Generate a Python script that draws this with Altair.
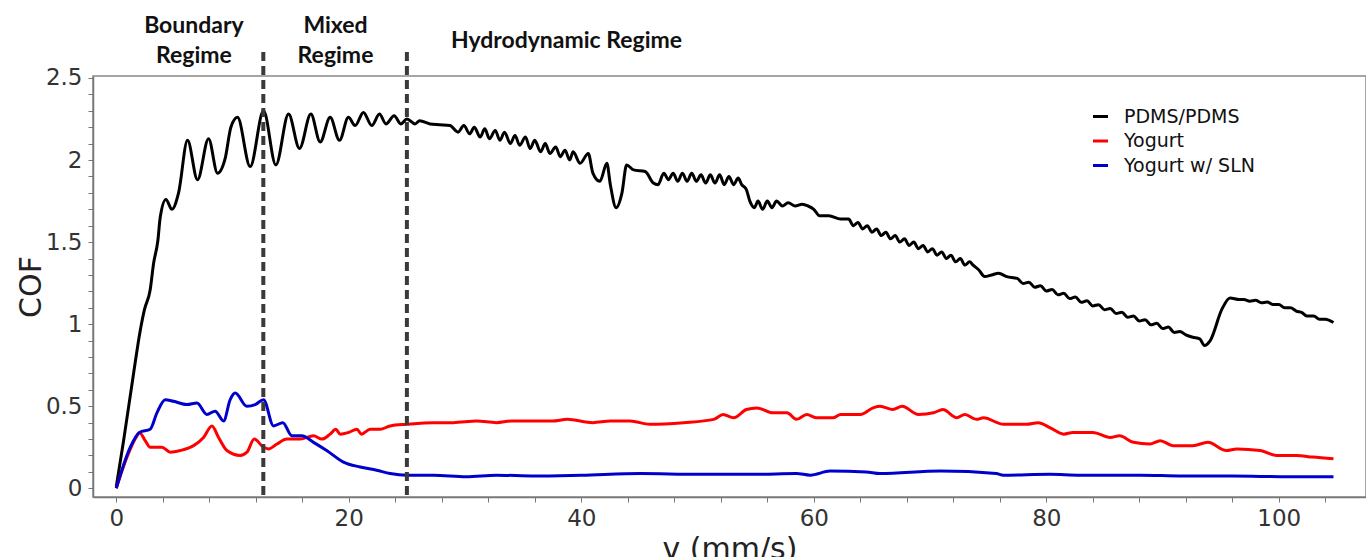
import altair as alt
import pandas as pd

series_names = ["PDMS/PDMS", "Yogurt", "Yogurt w/ SLN"]
series_colors = ["#000000", "#ff0000", "#0000cd"]

pdms_v = [0, 0.63, 1.49, 2.06, 2.43, 2.92, 3.21, 3.58, 3.78, 4.27,
          4.79, 5.36, 6.13, 6.99, 7.94, 8.71, 9.37, 9.86, 10.43, 11.52,
          12.67, 13.73, 14.82, 15.76, 16.74, 17.54, 18.40, 19.2, 19.97, 20.55,
          21.26, 21.98, 22.64, 23.2, 23.9, 24.48, 25.0, 25.7, 26.1, 27.0,
          27.8, 28.7, 29.4, 29.9, 30.4, 30.8, 31.3, 31.7, 32.1, 32.6,
          33.0, 33.4, 33.9, 34.3, 34.7, 35.2, 35.6, 36.0, 36.5, 36.9,
          37.3, 37.8, 38.2, 38.6, 39.0, 39.3, 39.9, 40.6, 41.0, 41.6,
          42.2, 42.5, 43.0, 43.5, 43.9, 44.5, 45.5, 46.2, 46.6, 47.1,
          47.5, 47.9, 48.3, 48.7, 49.1, 49.5, 49.9, 50.3, 50.7, 51.1,
          51.5, 51.9, 52.3, 52.7, 53.1, 53.5, 53.8, 54.2, 54.5, 54.9,
          55.2, 55.6, 56.0, 56.4, 56.8, 57.3, 57.8, 58.4, 59.0, 59.5,
          60.0, 60.5, 61.3, 62.3, 63.0, 63.4, 63.8, 64.2, 64.6, 65.0,
          65.4, 65.8, 66.2, 66.6, 67.0, 67.4, 67.8, 68.2, 68.6, 69.0,
          69.4, 69.8, 70.2, 70.6, 71.0, 71.4, 71.8, 72.2, 72.6, 73.0,
          73.4, 73.7, 74.2, 74.7, 75.3, 75.9, 76.6, 77.5, 78.0, 78.5,
          79.0, 79.5, 80.0, 80.5, 81.0, 81.5, 82.0, 82.5, 83.0, 83.5,
          84.0, 84.5, 85.0, 85.5, 86.0, 86.5, 87.0, 87.5, 88.0, 88.5,
          89.0, 89.5, 90.0, 90.5, 91.0, 91.5, 92.0, 92.6, 93.2, 93.6,
          94.1, 95.1, 95.8, 96.6, 97.0, 97.5, 98.0, 98.5, 99.0, 99.5,
          100.0, 100.5, 101.0, 101.5, 102.0, 102.4, 103.0, 103.5, 104.0, 104.7]
pdms_cof = [0.01, 0.29, 0.70, 0.96, 1.09, 1.21, 1.37, 1.51, 1.65, 1.76,
            1.70, 1.80, 2.12, 1.88, 2.13, 1.92, 2.01, 2.20, 2.26, 1.96,
            2.30, 1.97, 2.28, 2.07, 2.28, 2.11, 2.26, 2.12, 2.26, 2.21,
            2.29, 2.21, 2.28, 2.22, 2.27, 2.22, 2.25, 2.22, 2.24, 2.22,
            2.215, 2.21, 2.17, 2.21, 2.16, 2.20, 2.14, 2.19, 2.13, 2.18,
            2.12, 2.17, 2.10, 2.15, 2.09, 2.14, 2.07, 2.12, 2.05, 2.10,
            2.04, 2.08, 2.02, 2.06, 2.00, 2.05, 1.98, 2.04, 1.92, 1.87,
            1.98, 1.85, 1.71, 1.80, 1.97, 1.94, 1.93, 1.86, 1.85, 1.92,
            1.88, 1.92, 1.87, 1.92, 1.87, 1.92, 1.87, 1.91, 1.86, 1.91,
            1.86, 1.91, 1.85, 1.90, 1.85, 1.89, 1.85, 1.82, 1.75, 1.71,
            1.75, 1.70, 1.75, 1.71, 1.75, 1.72, 1.74, 1.72, 1.73, 1.72,
            1.70, 1.66, 1.66, 1.64, 1.64, 1.60, 1.62, 1.58, 1.60, 1.56,
            1.58, 1.54, 1.56, 1.52, 1.54, 1.50, 1.52, 1.48, 1.50, 1.46,
            1.48, 1.44, 1.46, 1.42, 1.44, 1.40, 1.42, 1.38, 1.40, 1.36,
            1.38, 1.36, 1.33, 1.29, 1.30, 1.31, 1.29, 1.279, 1.248, 1.256,
            1.225, 1.234, 1.202, 1.211, 1.179, 1.188, 1.156, 1.165, 1.133, 1.142,
            1.111, 1.119, 1.088, 1.096, 1.065, 1.073, 1.042, 1.050, 1.019, 1.027,
            0.996, 1.005, 0.973, 0.982, 0.950, 0.955, 0.935, 0.92, 0.91, 0.87,
            0.90, 1.09, 1.16, 1.15, 1.15, 1.14, 1.145, 1.13, 1.135, 1.12,
            1.12, 1.10, 1.10, 1.08, 1.07, 1.05, 1.05, 1.03, 1.03, 1.01]

yog_v = [0, 0.92, 1.78, 2.0, 2.49, 2.92, 3.93, 4.64, 5.50, 6.65,
         7.51, 8.23, 8.80, 9.52, 10.66, 11.24, 11.87, 12.67, 13.1, 13.82,
         14.68, 15.82, 16.97, 17.69, 18.4, 18.89, 19.26, 19.97, 20.7, 21.1,
         21.84, 22.7, 23.56, 25.0, 27.3, 29.0, 31.0, 32.7, 34.0, 35.9,
         37.5, 38.8, 41.0, 42.5, 44.2, 45.9, 48.8, 51.4, 52.2, 53.1,
         54.2, 55.1, 56.5, 57.7, 58.5, 59.4, 60.2, 61.7, 62.3, 64.0,
         65.1, 65.7, 66.8, 67.6, 69.0, 70.3, 71.1, 72.3, 73.0, 74.0,
         74.6, 76.3, 78.3, 79.3, 80.3, 81.5, 82.3, 84.0, 85.5, 86.3,
         87.5, 88.9, 89.8, 90.9, 92.6, 93.9, 95.5, 96.4, 98.4, 99.8,
         101.5, 102.9, 104.7]
yog_cof = [0, 0.19, 0.32, 0.34, 0.29, 0.25, 0.25, 0.22, 0.23, 0.26,
           0.31, 0.38, 0.31, 0.23, 0.20, 0.22, 0.30, 0.25, 0.24, 0.27,
           0.30, 0.30, 0.32, 0.30, 0.33, 0.36, 0.33, 0.34, 0.36, 0.33,
           0.36, 0.36, 0.38, 0.39, 0.40, 0.40, 0.41, 0.40, 0.41, 0.41,
           0.41, 0.42, 0.40, 0.41, 0.41, 0.39, 0.40, 0.42, 0.45, 0.43,
           0.48, 0.49, 0.46, 0.46, 0.42, 0.45, 0.43, 0.43, 0.45, 0.45,
           0.49, 0.50, 0.48, 0.50, 0.45, 0.46, 0.48, 0.43, 0.45, 0.42,
           0.43, 0.39, 0.39, 0.40, 0.37, 0.33, 0.34, 0.34, 0.31, 0.32,
           0.28, 0.27, 0.29, 0.26, 0.26, 0.28, 0.23, 0.24, 0.23, 0.20,
           0.20, 0.19, 0.18]

sln_v = [0, 1.2, 2.0, 2.92, 3.5, 4.21, 4.93, 6.08, 6.94, 7.8,
         8.51, 9.23, 9.8, 10.23, 11.24, 11.95, 12.67, 13.53, 14.33, 15.1,
         15.96, 16.97, 18.1, 19.54, 20.98, 22.4, 23.56, 25.0, 27.3, 30.1,
         32.7, 36.0, 40.0, 45.1, 50.0, 55.0, 58.5, 59.7, 61.4, 64.5,
         65.7, 70.9, 75.7, 76.3, 80.3, 82.9, 88.1, 91.7, 96.0, 100.9,
         104.7]
sln_cof = [0, 0.25, 0.34, 0.36, 0.46, 0.54, 0.53, 0.51, 0.52, 0.45,
           0.47, 0.41, 0.54, 0.58, 0.50, 0.51, 0.54, 0.38, 0.40, 0.32,
           0.32, 0.28, 0.23, 0.16, 0.13, 0.11, 0.09, 0.08, 0.08, 0.07,
           0.08, 0.075, 0.08, 0.09, 0.085, 0.085, 0.09, 0.08, 0.105, 0.10,
           0.09, 0.105, 0.09, 0.08, 0.085, 0.08, 0.08, 0.075, 0.075, 0.07,
           0.07]

regime_bounds = [12.65, 25.0]
regime_first_line = ["Boundary", "Mixed"]
regime_second_line = ["Regime", "Regime"]
regime_two_line_v = [6.68, 18.86]
hydro_text = ["Hydrodynamic Regime"]
hydro_v = [38.73]

x_ticks = [0, 2, 4, 6, 8, 10, 12, 14, 16, 18, 20, 22, 24, 26, 28, 30, 32, 34, 36, 38,
           40, 42, 44, 46, 48, 50, 52, 54, 56, 58, 60, 62, 64, 66, 68, 70, 72, 74, 76, 78,
           80, 82, 84, 86, 88, 90, 92, 94, 96, 98, 100, 102, 104, 106]
y_ticks = [0.0, 0.1, 0.2, 0.3, 0.4, 0.5, 0.6, 0.7, 0.8, 0.9, 1.0, 1.1, 1.2, 1.3, 1.4,
           1.5, 1.6, 1.7, 1.8, 1.9, 2.0, 2.1, 2.2, 2.3, 2.4, 2.5]

frames = []
for name, vv, cc in zip(series_names, [pdms_v, yog_v, sln_v], [pdms_cof, yog_cof, sln_cof]):
    df = pd.DataFrame({"v": vv, "cof": cc})
    df["series"] = name
    frames.append(df)
data = pd.concat(frames, ignore_index=True)

W, H = 1273, 421
xscale = alt.Scale(domain=[-2, 107.5], nice=False, zero=False)
yscale = alt.Scale(domain=[-0.053, 2.512], nice=False, zero=False)

axis_common = dict(
    tickSize=5, tickColor="#777", domainColor="#777", domainWidth=1.5, tickWidth=1,
    labelFont="DejaVu Sans", labelFontSize=23, labelColor="#333",
    grid=False, labelOverlap=False, labelFlush=False,
    titleFont="DejaVu Sans", titleFontWeight="normal", titleColor="#222",
)

x_enc = alt.X("v:Q", scale=xscale, axis=alt.Axis(
    values=x_ticks, labelExpr="datum.value % 10 === 0 ? datum.label : ''",
    labelPadding=5, title="v (mm/s)", titleFontSize=30, titleX=W / 2, titleY=61,
    titleAlign="center", titleBaseline="alphabetic", **axis_common))
y_enc = alt.Y("cof:Q", scale=yscale, axis=alt.Axis(
    values=y_ticks,
    labelExpr="abs(datum.value * 2 - round(datum.value * 2)) < 0.001 ? format(datum.value, '~g') : ''",
    labelPadding=6, title="COF", titleFontSize=30, titleAngle=270, titleX=-62, titleY=H / 2,
    titleAlign="center", titleBaseline="middle", **axis_common))

lines = alt.Chart(data).mark_line(strokeWidth=3, interpolate="monotone").encode(
    x=x_enc, y=y_enc,
    color=alt.Color("series:N", scale=alt.Scale(domain=series_names, range=series_colors),
                    legend=alt.Legend(orient="none", legendX=998, legendY=31, title=None,
                                      padding=0, rowPadding=4.5, labelOffset=14,
                                      symbolType="stroke", symbolSize=225, symbolStrokeWidth=3,
                                      labelFont="DejaVu Sans", labelFontSize=19, labelColor="#111")),
    order=alt.Order("v:Q"),
)

rules = alt.Chart(pd.DataFrame({"v": regime_bounds})).mark_rule(
    color="#3a3a3a", strokeWidth=4, strokeDash=[9, 5]).encode(
    x=alt.X("v:Q", scale=xscale), y=alt.value(-24), y2=alt.value(H))

text_style = dict(font="Lato", fontWeight="bold", fontSize=23, color="#111", align="center",
                  baseline="alphabetic")
t1 = alt.Chart(pd.DataFrame({"v": regime_two_line_v, "t": regime_first_line})).mark_text(**text_style).encode(
    x=alt.X("v:Q", scale=xscale), y=alt.value(-43), text="t:N")
t2 = alt.Chart(pd.DataFrame({"v": regime_two_line_v, "t": regime_second_line})).mark_text(**text_style).encode(
    x=alt.X("v:Q", scale=xscale), y=alt.value(-13), text="t:N")
t3 = alt.Chart(pd.DataFrame({"v": hydro_v, "t": hydro_text})).mark_text(**text_style).encode(
    x=alt.X("v:Q", scale=xscale), y=alt.value(-28), text="t:N")

chart = alt.layer(lines, rules, t1, t2, t3).properties(
    width=W, height=H, autosize="none",
    padding={"left": 93, "top": 76, "right": 0, "bottom": 60},
    background="white",
).configure_view(stroke="#888", strokeWidth=1.5)

chart.save("out.html", embed_options={"renderer": "svg", "actions": False})
